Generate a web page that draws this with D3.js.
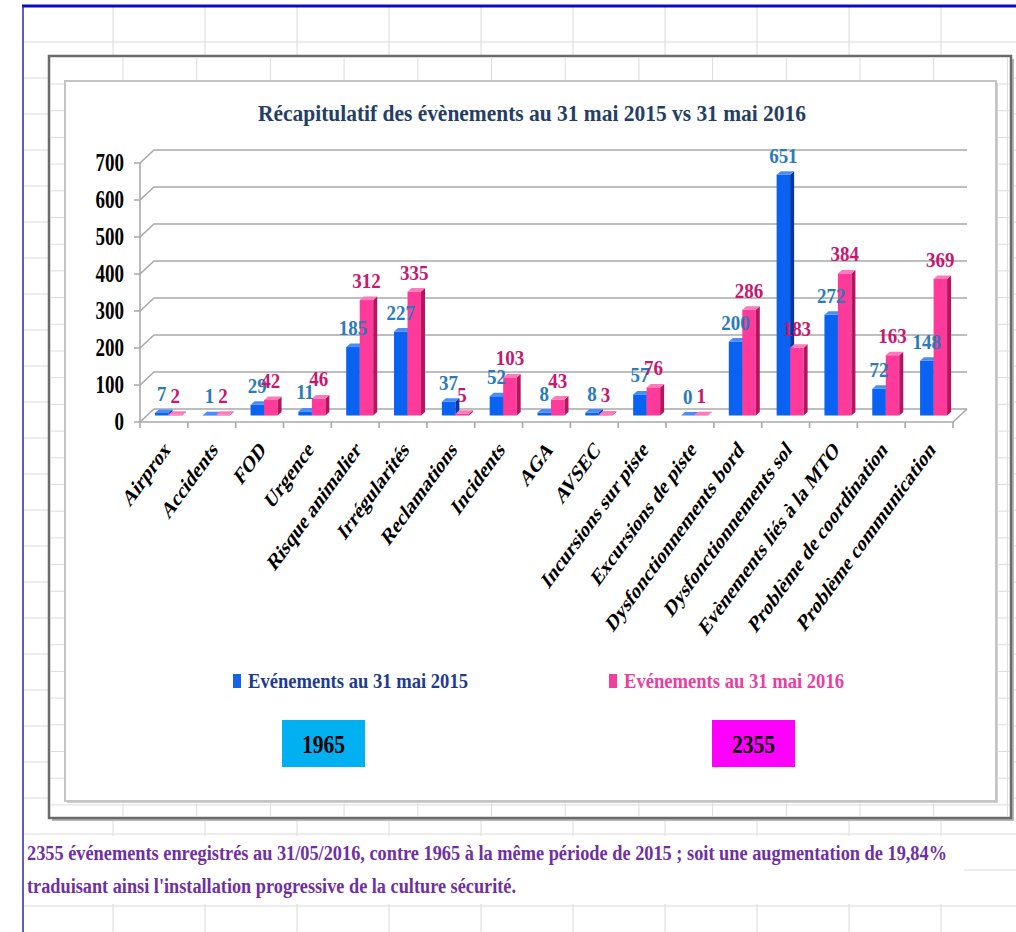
<!DOCTYPE html>
<html>
<head>
<meta charset="utf-8">
<title>Récapitulatif des évènements</title>
<script src="https://d3js.org/d3.v7.min.js"></script>
<style>
  body { margin: 0; background: #fff; }
  svg text { font-family: "Liberation Serif", "DejaVu Serif", serif; font-weight: bold; }
</style>
</head>
<body>
<div id="chart"></div>
<script>
// ---- data ----
var categories = ["Airprox", "Accidents", "FOD", "Urgence", "Risque animalier", "Irrégularités",
  "Reclamations", "Incidents", "AGA", "AVSEC", "Incursions sur piste", "Excursions de piste",
  "Dysfonctionnements bord", "Dysfonctionnements sol", "Evènements liés à la MTO",
  "Problème de coordination", "Problème communication"];
var events2015 = [7, 1, 29, 11, 185, 227, 37, 52, 8, 8, 57, 0, 200, 651, 272, 72, 148];
var events2016 = [2, 2, 42, 46, 312, 335, 5, 103, 43, 3, 76, 1, 286, 183, 384, 163, 369];
var yTicks = [0, 100, 200, 300, 400, 500, 600, 700];
var seriesNames = ["Evénements au 31 mai 2015", "Evénements au 31 mai 2016"];
var totals = [1965, 2355];
var titleText = "Récapitulatif des évènements au 31 mai 2015 vs 31 mai 2016";
var noteLines = [
  "2355 événements enregistrés au 31/05/2016, contre 1965 à la même période de 2015 ; soit une augmentation de 19,84%",
  "traduisant ainsi l'installation progressive de la culture sécurité."
];

var W = 1016, H = 932;
var svg = d3.select("#chart").append("svg").attr("width", W).attr("height", H);

// spreadsheet grid of the page
var grid = svg.append("g").attr("stroke", "#dadada").attr("stroke-width", 1);
d3.range(113, W, 92).forEach(function(gx) {
  grid.append("line").attr("x1", gx).attr("x2", gx).attr("y1", 7).attr("y2", H);
});
d3.range(42, H, 36).forEach(function(gy) {
  grid.append("line").attr("x1", 23).attr("x2", W).attr("y1", gy).attr("y2", gy);
});
// the note cells hide the grid
svg.append("rect").attr("x", 24).attr("y", 836).attr("width", 940).attr("height", 68).attr("fill", "#fff");

// blue page borders
svg.append("line").attr("x1", 22).attr("x2", W).attr("y1", 6).attr("y2", 6)
  .attr("stroke", "#0a0ac8").attr("stroke-width", 3);
svg.append("line").attr("x1", 23).attr("x2", 23).attr("y1", 6).attr("y2", H)
  .attr("stroke", "#2a2aa0").attr("stroke-width", 1.5);

// outer frame (with shadow) and grid showing between the frames
svg.append("rect").attr("x", 52).attr("y", 59).attr("width", 962).attr("height", 762).attr("fill", "#b8b8b8");
svg.append("rect").attr("x", 49).attr("y", 56).attr("width", 962).attr("height", 762)
  .attr("fill", "#fff").attr("stroke", "#6a6a6a").attr("stroke-width", 2.5);
var grid2 = svg.append("g").attr("stroke", "#dcdcdc").attr("stroke-width", 1);
d3.range(123, 1010, 73.7).forEach(function(gx) {
  grid2.append("line").attr("x1", gx).attr("x2", gx).attr("y1", 58).attr("y2", 816);
});
d3.range(84, 816, 26.7).forEach(function(gy) {
  grid2.append("line").attr("x1", 51).attr("x2", 1009).attr("y1", gy).attr("y2", gy);
});
svg.append("rect").attr("x", 67).attr("y", 83).attr("width", 931).attr("height", 720).attr("fill", "#d0d0d0");
svg.append("rect").attr("x", 65).attr("y", 81).attr("width", 931).attr("height", 720)
  .attr("fill", "#fff").attr("stroke", "#c4c4c4").attr("stroke-width", 2);

// title
svg.append("text").attr("x", 258).attr("y", 121).attr("font-size", 24)
  .attr("textLength", 548).attr("lengthAdjust", "spacingAndGlyphs")
  .attr("fill", "#253e66").text(titleText);

// ---- 3D chart ----
var X0 = 140, PW = 813, DX = 14, DY = -13;   // floor front edge and depth
var FX = 4.5, FY = -6.5, BDX = 4, BDY = -3.5; // bar front offset and bar depth
var x = d3.scaleBand().domain(categories).range([X0, X0 + PW]);
var y = d3.scaleLinear().domain([0, 700]).range([422, 163]);
var sub = d3.scaleBand().domain(["2015", "2016"]).range([0, 27]);
var bw = sub.bandwidth();

var walls = svg.append("g").attr("fill", "none").attr("stroke", "#a9a9a9").attr("stroke-width", 1.6);
yTicks.forEach(function(v) {
  walls.append("path").attr("d", "M" + (X0 - 6) + "," + y(v) + "L" + X0 + "," + y(v) +
    "L" + (X0 + DX) + "," + (y(v) + DY) + "L" + (X0 + PW + DX) + "," + (y(v) + DY));
});
walls.append("path").attr("d", "M" + X0 + "," + y(0) + "L" + X0 + "," + y(700));
walls.append("path").attr("d", "M" + X0 + "," + y(0) + "L" + (X0 + PW) + "," + y(0) +
  "L" + (X0 + PW + DX) + "," + (y(0) + DY));
d3.range(categories.length + 1).forEach(function(i) {
  var tx = X0 + i * x.step();
  walls.append("path").attr("d", "M" + tx + "," + y(0) + "L" + tx + "," + (y(0) + 6));
});

// y axis labels
svg.append("g").selectAll("text").data(yTicks).enter().append("text")
  .attr("text-anchor", "end").attr("font-size", 19).attr("fill", "#000")
  .attr("transform", function(v) { return "translate(124," + (y(v) + 8) + ") scale(1,1.3)"; })
  .text(function(v) { return v; });

var series = [
  { key: "2015", values: events2015, front: "#0a62f2", side: "#0036a6", top: "#4a8cff", label: "#2b7bba" },
  { key: "2016", values: events2016, front: "#ff3a9a", side: "#b3165e", top: "#ff79bb", label: "#c6186e" }
];

function barLeft(i, s) {
  return x(categories[i]) + x.bandwidth() / 2 + FX - 13.5 + sub(s.key);
}

var bars = svg.append("g");
categories.forEach(function(c, i) {
  series.forEach(function(s) {
    var x1 = barLeft(i, s), yt = y(s.values[i]) + FY, yb = y(0) + FY;
    bars.append("rect").attr("x", x1).attr("y", yt).attr("width", bw).attr("height", yb - yt)
      .attr("fill", s.front);
    bars.append("polygon").attr("fill", s.side).attr("points", [
      [x1 + bw, yt], [x1 + bw + BDX, yt + BDY], [x1 + bw + BDX, yb + BDY], [x1 + bw, yb]].join(" "));
    bars.append("polygon").attr("fill", s.top).attr("points", [
      [x1, yt], [x1 + BDX, yt + BDY], [x1 + bw + BDX, yt + BDY], [x1 + bw, yt]].join(" "));
  });
});

// value labels
var vl = svg.append("g");
series.forEach(function(s) {
  vl.selectAll(null).data(s.values).enter().append("text")
    .attr("text-anchor", "middle").attr("font-size", 19).attr("fill", s.label)
    .attr("transform", function(v, i) {
      return "translate(" + (barLeft(i, s) + bw / 2) + "," + (y(v) + FY - 12) + ") scale(1,1.1)";
    })
    .text(function(v) { return v; });
});

// category labels, rotated
svg.append("g").selectAll("text").data(categories).enter().append("text")
  .attr("text-anchor", "end").attr("font-size", 17).attr("fill", "#000")
  .attr("transform", function(c) {
    return "translate(" + (x(c) + x.bandwidth() / 2 + 7) + ",451) scale(1,1.38) rotate(-45)";
  })
  .text(function(c) { return c; });

// legend
var legX = [233, 609], legColors = ["#1565e8", "#f0409a"], legText = ["#1f3c8c", "#e8409f"];
seriesNames.forEach(function(n, k) {
  svg.append("rect").attr("x", legX[k]).attr("y", 674).attr("width", 8).attr("height", 14).attr("fill", legColors[k]);
  svg.append("text").attr("x", legX[k] + 15).attr("y", 688).attr("font-size", 21)
    .attr("textLength", 220).attr("lengthAdjust", "spacingAndGlyphs")
    .attr("fill", legText[k]).text(n);
});

// totals boxes
var boxX = [282, 712], boxFill = ["#00b0f0", "#ff00ff"];
totals.forEach(function(t, k) {
  svg.append("rect").attr("x", boxX[k]).attr("y", 720).attr("width", 83).attr("height", 47).attr("fill", boxFill[k]);
  svg.append("text").attr("x", boxX[k] + 41.5).attr("y", 753).attr("text-anchor", "middle")
    .attr("font-size", 25).attr("textLength", 43).attr("lengthAdjust", "spacingAndGlyphs")
    .attr("fill", "#000").text(t);
});

// note under the chart
var noteLen = [920, 489];
noteLines.forEach(function(line, k) {
  svg.append("text").attr("font-size", 18)
    .attr("transform", "translate(27," + (860 + k * 33) + ") scale(1,1.2)")
    .attr("textLength", noteLen[k]).attr("lengthAdjust", "spacingAndGlyphs")
    .attr("fill", "#7030a0").text(line);
});
</script>
</body>
</html>
